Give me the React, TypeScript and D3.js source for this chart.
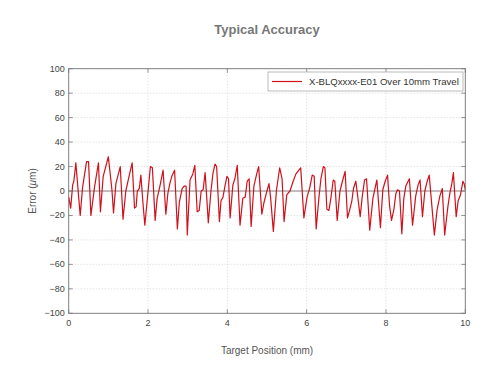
import React from "react";
import * as d3 from "d3";

const positionsMm = [
  0.00,0.05,0.10,0.13,0.18,0.29,0.35,0.45,0.50,0.56,0.65,0.75,0.80,0.87,1.00,1.09,1.13,1.19,1.30,1.37,
  1.44,1.55,1.60,1.66,1.70,1.73,1.78,1.82,1.87,1.92,2.06,2.11,2.18,2.23,2.30,2.38,2.45,2.50,2.55,2.60,
  2.67,2.74,2.79,2.86,2.91,2.96,2.99,3.06,3.13,3.18,3.24,3.29,3.34,3.39,3.44,3.48,3.52,3.59,3.64,3.69,
  3.73,3.80,3.84,3.89,3.94,3.99,4.03,4.07,4.14,4.19,4.25,4.32,4.39,4.45,4.50,4.55,4.60,4.67,4.74,4.79,
  4.87,4.92,4.99,5.05,5.09,5.16,5.24,5.32,5.38,5.43,5.50,5.58,5.66,5.73,5.85,5.93,6.01,6.08,6.14,6.19,
  6.24,6.31,6.36,6.42,6.46,6.51,6.56,6.61,6.67,6.71,6.77,6.84,6.91,6.97,7.03,7.08,7.14,7.18,7.24,7.35,
  7.40,7.46,7.51,7.59,7.67,7.77,7.86,7.92,7.98,8.04,8.09,8.14,8.20,8.25,8.29,8.34,8.40,8.45,8.50,8.59,
  8.67,8.75,8.81,8.86,8.92,8.98,9.04,9.09,9.22,9.29,9.36,9.42,9.48,9.56,9.61,9.66,9.70,9.77,9.82,9.88,
  9.94,9.97,10.00,
];

const errorsUm = [
  -5,-14,5,8,23,-20,3,24,24,-20,3,23,-17,12,28,1,-18,6,20,-23,
  0,16,23,-14,-13,0,2,13,-9,-28,20,19,-24,-6,4,17,-19,-2,6,12,
  17,-31,-9,2,4,4,-36,9,14,21,-17,-16,0,1,15,-5,-26,1,15,22,
  20,-25,-8,-5,4,12,10,-22,5,10,21,-28,-6,-5,8,10,-29,4,14,20,
  -19,-10,-1,6,-5,-33,1,19,10,-25,-3,0,8,14,19,-22,-5,3,13,12,
  -31,-5,10,20,19,-15,-16,-6,9,8,-24,0,9,16,-22,-16,-8,2,8,-21,
  -5,9,10,-32,-6,9,-30,1,8,13,-12,-24,-15,-2,1,0,-35,-6,4,10,
  -28,-4,5,9,-21,0,8,13,-36,-15,-4,2,-36,-13,-2,6,15,-21,-8,-3,
  8,6,1,
];

const xTicks = [0, 2, 4, 6, 8, 10];
const yTicks = [-100, -80, -60, -40, -20, 0, 20, 40, 60, 80, 100];
const titleText = "Typical Accuracy";
const xLabel = "Target Position (mm)";
const legendLabel = "X-BLQxxxx-E01 Over 10mm Travel";

const W = 496;
const H = 381;
const left = 68.7;
const right = 465.3;
const top = 68.7;
const bottom = 313.3;

export default function App() {
  const x = d3.scaleLinear().domain([0, 10]).range([left, right]);
  const y = d3.scaleLinear().domain([-100, 100]).range([bottom, top]);
  const data = positionsMm.map((p, i) => [p, errorsUm[i]] as [number, number]);
  const line = d3
    .line<[number, number]>()
    .x((d) => x(d[0]))
    .y((d) => y(d[1]));
  const font = "Liberation Sans, Arial, sans-serif";
  const fmt = (v: number) => (v < 0 ? "\u2212" + Math.abs(v) : String(v));
  const cy = (top + bottom) / 2;
  const cx = (left + right) / 2;
  return (
    <svg
      width={W}
      height={H}
      style={{ position: "absolute", left: 0, top: 0, background: "#fff" }}
      fontFamily={font}
    >
      <rect x={0} y={0} width={W} height={H} fill="#fff" />
      <text x={cx} y={34} textAnchor="middle" fontSize={13} fontWeight="bold" fill="#777">
        {titleText}
      </text>
      {xTicks.map((t) => (
        <line key={"gx" + t} x1={x(t)} x2={x(t)} y1={top} y2={bottom} stroke="#d8d8d8" strokeWidth={0.7} strokeDasharray="1.5,1.5" />
      ))}
      {yTicks.map((t) => (
        <line key={"gy" + t} x1={left} x2={right} y1={y(t)} y2={y(t)} stroke="#d8d8d8" strokeWidth={0.7} strokeDasharray="1.5,1.5" />
      ))}
      <line x1={left} x2={right} y1={y(0)} y2={y(0)} stroke="#777" strokeWidth={0.9} />
      <path d={line(data) || ""} fill="none" stroke="#d0101a" strokeWidth={1.2} strokeLinejoin="round" />
      <rect x={left} y={top} width={right - left} height={bottom - top} fill="none" stroke="#777" strokeWidth={0.9} />
      {xTicks.map((t) => (
        <g key={"tx" + t}>
          <line x1={x(t)} x2={x(t)} y1={bottom} y2={bottom - 4} stroke="#777" strokeWidth={0.8} />
          <line x1={x(t)} x2={x(t)} y1={top} y2={top + 4} stroke="#777" strokeWidth={0.8} />
          <text x={x(t)} y={bottom + 13} textAnchor="middle" fontSize={9} fill="#444">
            {fmt(t)}
          </text>
        </g>
      ))}
      {yTicks.map((t) => (
        <g key={"ty" + t}>
          <line x1={left} x2={left + 4} y1={y(t)} y2={y(t)} stroke="#777" strokeWidth={0.8} />
          <line x1={right} x2={right - 4} y1={y(t)} y2={y(t)} stroke="#777" strokeWidth={0.8} />
          <text x={left - 4} y={y(t) + 3} textAnchor="end" fontSize={9} fill="#444">
            {fmt(t)}
          </text>
        </g>
      ))}
      <text x={cx} y={354} textAnchor="middle" fontSize={10} fill="#555">
        {xLabel}
      </text>
      <text
        transform={`translate(${36},${cy}) rotate(-90)`}
        textAnchor="middle"
        fontSize={10}
        fill="#555"
      >
        Error (<tspan fontStyle="italic">μ</tspan>m)
      </text>
      <rect x={268} y={72} width={195} height={19} fill="#fff" stroke="#aaa" strokeWidth={0.8} />
      <line x1={272} x2={302} y1={81.5} y2={81.5} stroke="#d0101a" strokeWidth={1.2} />
      <text x={309} y={85} fontSize={9.6} fill="#333">
        {legendLabel}
      </text>
    </svg>
  );
}
